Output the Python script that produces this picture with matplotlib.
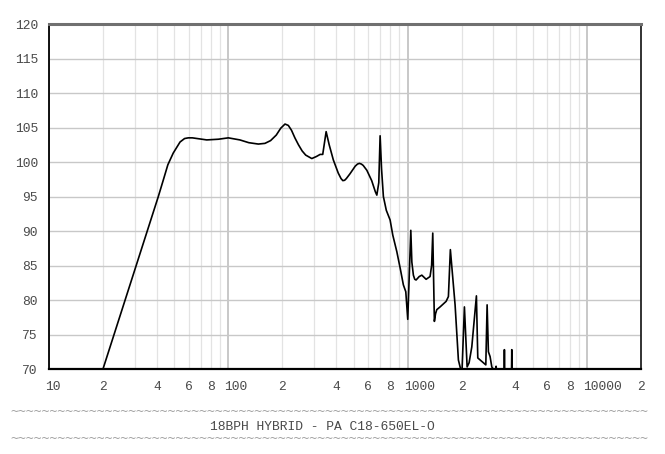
import matplotlib
matplotlib.use("Agg")
import matplotlib.pyplot as plt
from matplotlib.transforms import ScaledTranslation

# Frequency response (Hz, dB SPL)
freq = [10, 20, 40.7, 43.4, 46, 49.3, 53.8, 57, 59.8, 63, 67, 75.8, 88, 100, 116, 130, 147, 160, 172,
        185, 196, 207, 216, 225, 235, 246, 258, 270, 292, 310, 325, 336, 351, 365, 385, 410, 425, 435, 445, 455,
        477, 510, 525, 538, 552, 565, 592, 630, 660, 673, 690, 702, 715, 732, 760, 798, 826,
        870, 910, 946, 976, 1001, 1041, 1055, 1076, 1095, 1114, 1160, 1199, 1267, 1333,
        1360, 1380, 1409, 1430, 1453, 1516, 1638, 1687, 1730, 1838, 1918, 1973, 2011,
        2072, 2145, 2200, 2278, 2417, 2460, 2644, 2727, 2773, 2819, 2881, 2945, 2995,
        3100, 3112, 3125, 3450, 3462, 3475, 3795, 3806, 3818, 20000]
spl = [70, 70, 95, 97.4, 99.6, 101.3, 102.9, 103.4, 103.5, 103.5, 103.4, 103.2, 103.3, 103.5, 103.2, 102.8, 102.6, 102.7, 103.1,
       103.9, 104.9, 105.5, 105.3, 104.6, 103.5, 102.5, 101.6, 101.0, 100.5, 100.8, 101.1, 101.1, 104.4, 102.5, 100.3, 98.4, 97.6, 97.3, 97.35, 97.6,
       98.3, 99.4, 99.7, 99.8, 99.7, 99.5, 98.8, 97.3, 95.7, 95.2, 97.0, 103.8, 99.0, 95.0, 93.0, 91.6, 89.4,
       87.0, 84.5, 82.2, 81.2, 77.2, 90.1, 85.5, 83.6, 83.0, 82.9, 83.4, 83.6, 83.0, 83.4,
       85.0, 89.7, 76.9, 78.0, 78.6, 79.0, 79.8, 80.5, 87.3, 79.3, 71.3, 70, 70,
       79.0, 70.3, 70.9, 73.2, 80.6, 71.6, 70.9, 70.6, 79.3, 72.5, 71.8, 70.3, 70,
       70, 70.4, 70, 70, 72.8, 70, 70, 72.8, 70, 70]

major_x = [10, 100, 1000, 10000]
minor_x = [20, 30, 40, 50, 60, 70, 80, 90,
           200, 300, 400, 500, 600, 700, 800, 900,
           2000, 3000, 4000, 5000, 6000, 7000, 8000, 9000,
           20000]
minor_labels = ["2", "", "4", "", "6", "", "8", "",
                "2", "", "4", "", "6", "", "8", "",
                "2", "", "4", "", "6", "", "8", "",
                "2"]
y_ticks = [70, 75, 80, 85, 90, 95, 100, 105, 110, 115, 120]
title = "18BPH HYBRID - PA C18-650EL-O"

mono = "Liberation Mono"
txt_col = "#4a4a4a"

fig = plt.figure(figsize=(6.65, 4.54), dpi=100)
ax = fig.add_axes([49 / 665, 1 - 369 / 454, (641 - 49) / 665, (369 - 24) / 454])

ax.semilogx(freq, spl, color="black", lw=1.2, zorder=3)
ax.set_xlim(10, 20000)
ax.set_ylim(70, 120)

ax.set_xticks(major_x)
ax.set_xticklabels([str(v) for v in major_x])
ax.set_xticks(minor_x, minor=True)
ax.set_xticklabels(minor_labels, minor=True)
ax.set_yticks(y_ticks)
ax.set_yticklabels([str(v) for v in y_ticks])

ax.tick_params(which="both", length=0, labelsize=9.4, labelcolor=txt_col)
ax.tick_params(axis="x", which="both", pad=9)
ax.tick_params(axis="y", pad=8)
for lab in ax.get_xticklabels() + ax.get_xticklabels(minor=True) + ax.get_yticklabels():
    lab.set_fontfamily(mono)

# multi-digit labels start with their first digit on the line
shift = ScaledTranslation(-4 / 100, 0, fig.dpi_scale_trans)
for lab in ax.get_xticklabels():
    lab.set_horizontalalignment("left")
    lab.set_transform(lab.get_transform() + shift)

ax.grid(True, which="major", axis="x", color="#c4c4c4", lw=1.3)
ax.grid(True, which="minor", axis="x", color="#e3e3e3", lw=0.9)
ax.grid(True, which="major", axis="y", color="#c8c8c8", lw=1.0)
ax.set_axisbelow(True)

ax.spines["top"].set_color("#707070")
ax.spines["top"].set_linewidth(2.2)
ax.spines["left"].set_color("black")
ax.spines["left"].set_linewidth(1.3)
ax.spines["bottom"].set_color("black")
ax.spines["bottom"].set_linewidth(1.6)
ax.spines["right"].set_color("#222222")
ax.spines["right"].set_linewidth(1.3)

tildes = "~" * 81
fig.text(10 / 665, 1 - 412 / 454, tildes, family="DejaVu Sans Mono", fontsize=9.45, color="#a0a0a0",
         ha="left", va="center")
fig.text(210 / 665, 1 - 427 / 454, title, family=mono, fontsize=9.4, color=txt_col,
         ha="left", va="center")
fig.text(10 / 665, 1 - 439 / 454, tildes, family="DejaVu Sans Mono", fontsize=9.45, color="#a0a0a0",
         ha="left", va="center")

fig.savefig("out.png", dpi=100)
